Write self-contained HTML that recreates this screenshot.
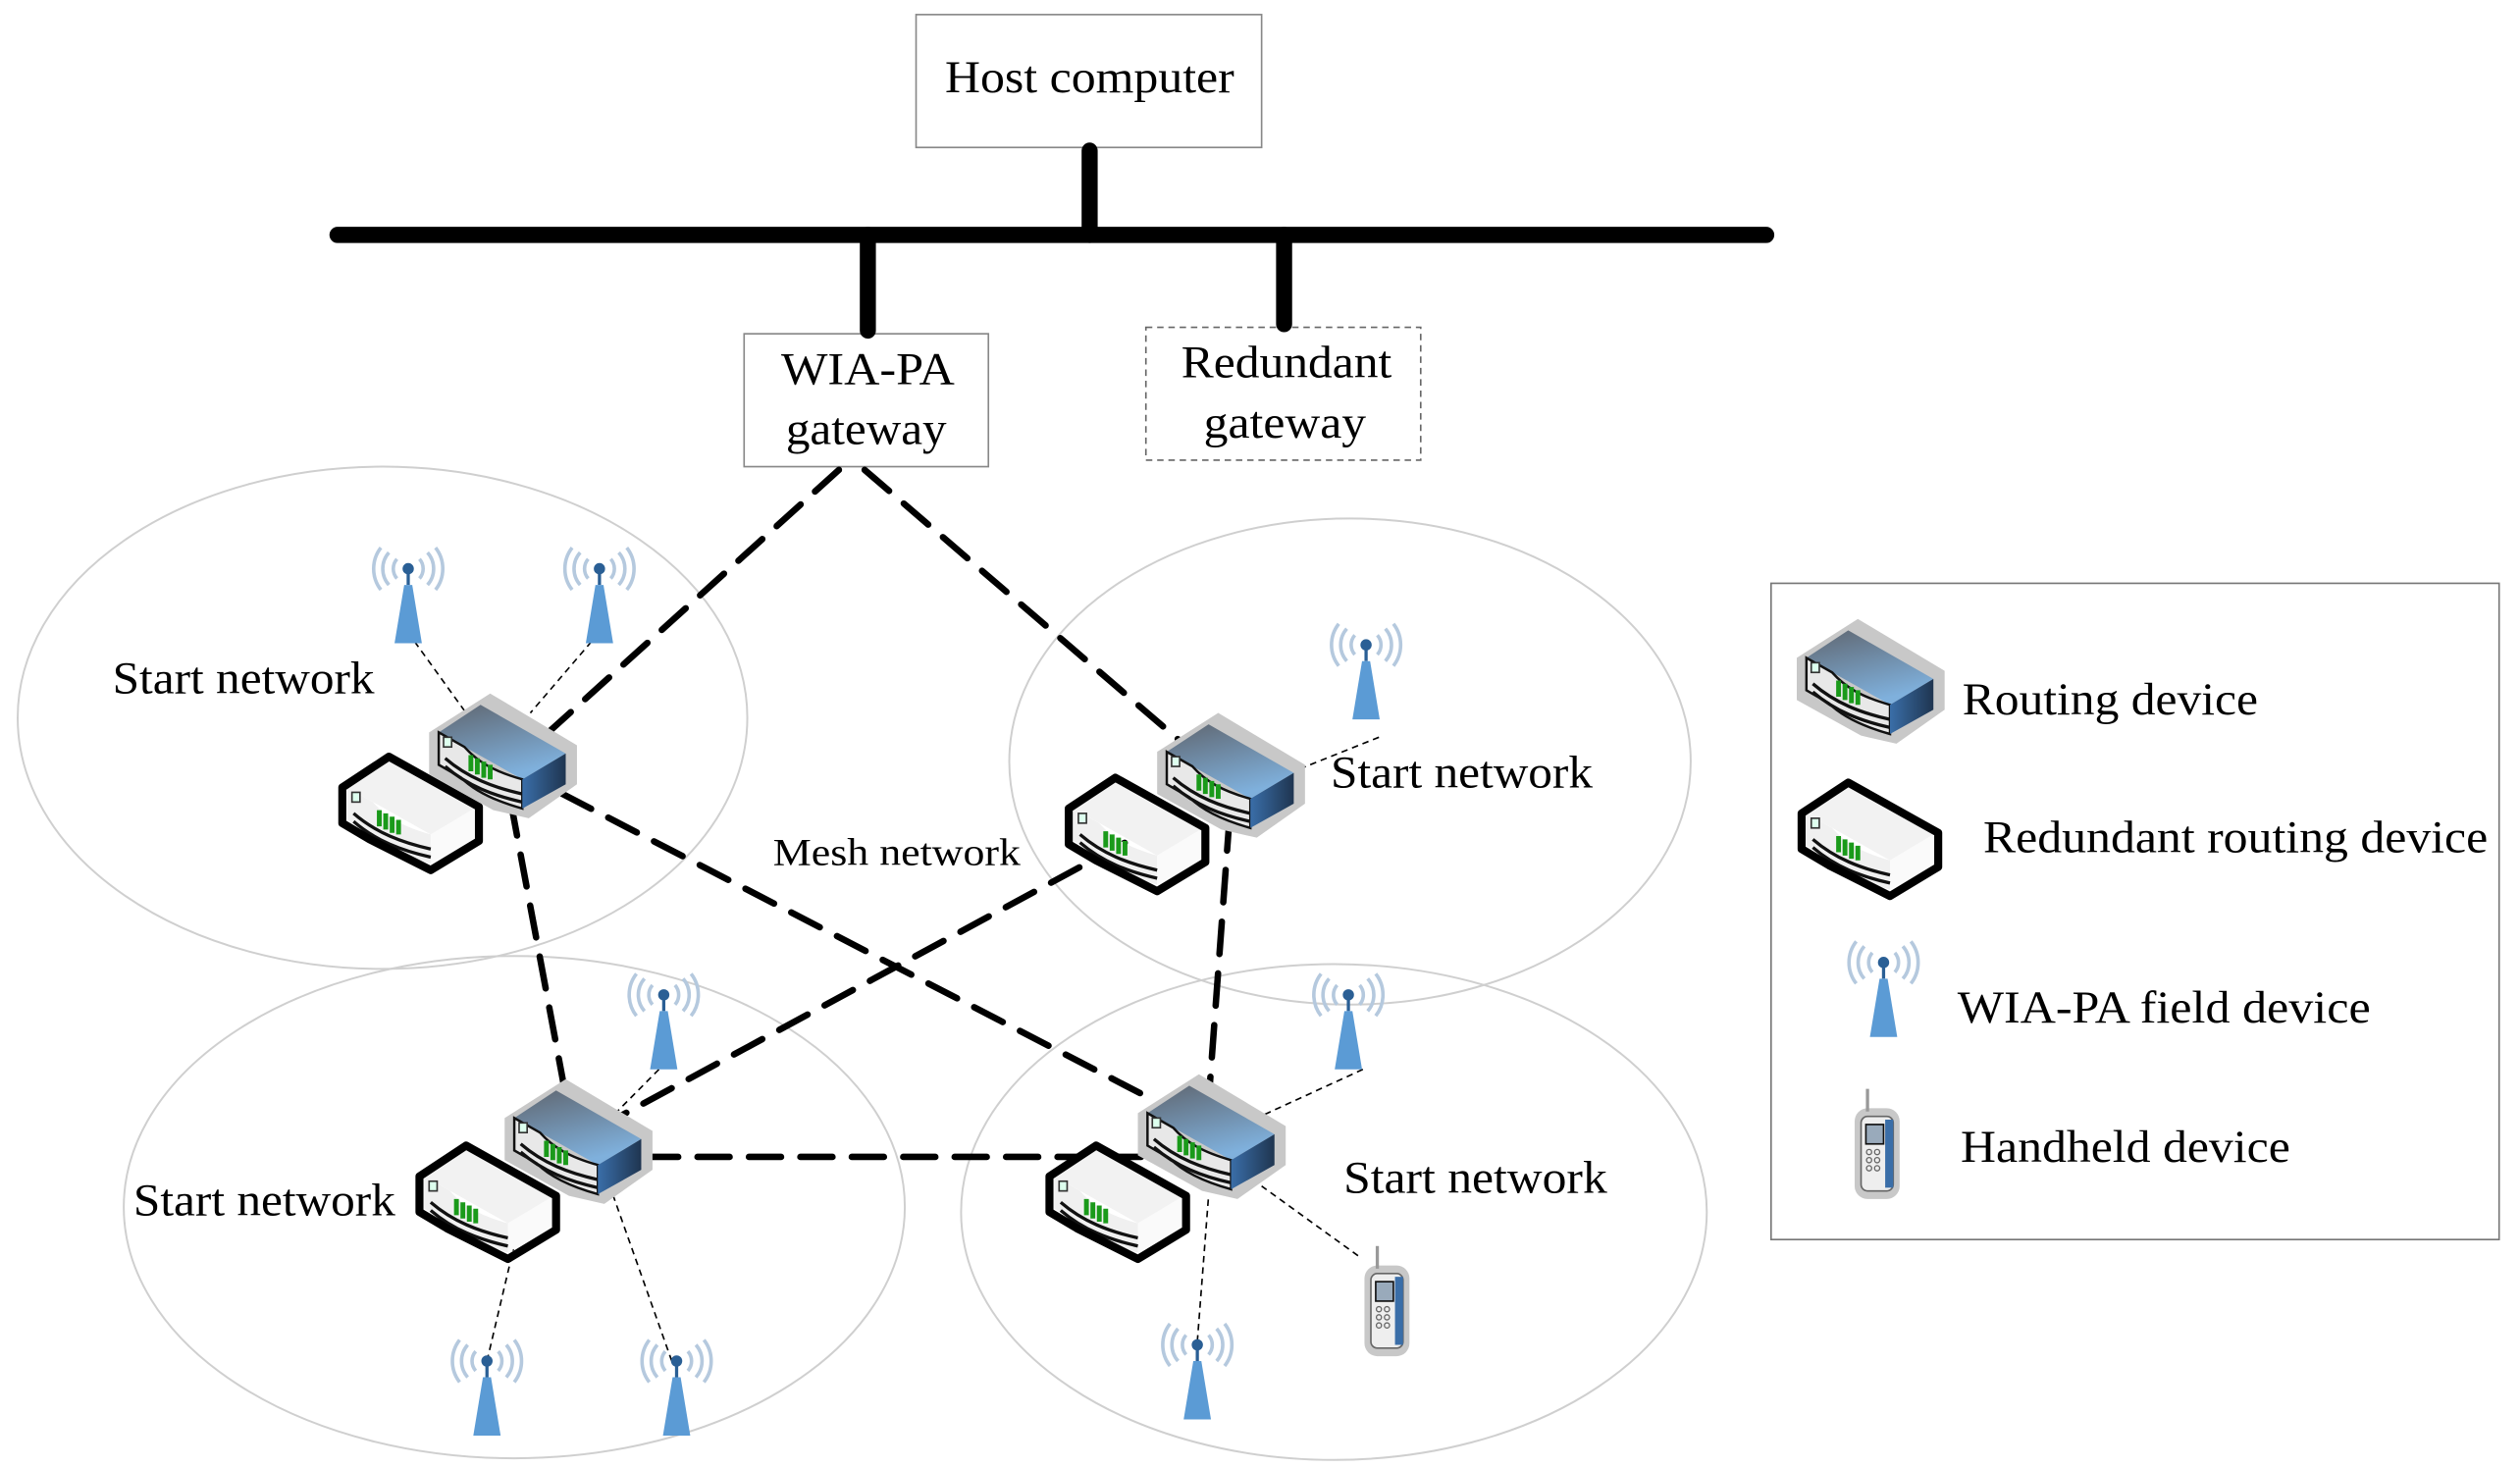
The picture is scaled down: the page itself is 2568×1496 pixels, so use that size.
<!DOCTYPE html>
<html><head><meta charset="utf-8"><style>html,body{margin:0;padding:0;background:#fff}svg{display:block}</style></head>
<body>
<svg width="2568" height="1496" viewBox="0 0 1568 906" preserveAspectRatio="none" xmlns="http://www.w3.org/2000/svg" font-family="Liberation Serif, serif">
<defs>
<linearGradient id="gt" x1="0" y1="0" x2="0.4" y2="1"><stop offset="0" stop-color="#5f6670"/><stop offset="1" stop-color="#7fb0dc"/></linearGradient>
<linearGradient id="gr" x1="0" y1="0" x2="1" y2="0"><stop offset="0" stop-color="#3a6ea8"/><stop offset="1" stop-color="#1f3550"/></linearGradient>
<g id="rt">
<polygon points="0,24 38,0 92,32 92,56 62,77 40,72 0,50" fill="#c8c8c8"/>
<polygon points="6,24 32,7 85,37 58,53" fill="url(#gt)"/>
<path d="M6,24 L22,33 C30,42 40,48 58,53 L58,71 C40,66 28,60 20,52 L6,44 Z" fill="#e8e8e8" stroke="#111" stroke-width="1.5"/>
<path d="M10,40 C24,52 40,58 58,62 M10,45 C24,57 40,63 58,67" stroke="#111" stroke-width="2" fill="none"/>
<rect x="9" y="27" width="5" height="6" fill="#dfe" stroke="#333" stroke-width="1"/>
<path d="M26,38 l0,10 M30,40 l0,10 M34,42 l0,10 M38,44 l0,9" stroke="#1a9a1a" stroke-width="3"/>
<polygon points="58,53 85,37 85,56 58,71" fill="url(#gr)"/>
</g>
<g id="wr">
<polygon points="6,24 32,7 85,37 58,53" fill="#f2f2f2"/>
<path d="M6,24 L22,33 C30,42 40,48 58,53 L58,71 C40,66 28,60 20,52 L6,44 Z" fill="#f0f0f0"/>
<polygon points="58,53 85,37 85,56 58,71" fill="#fafafa"/>
<path d="M10,40 C24,52 40,58 58,62 M10,45 C24,57 40,63 58,67" stroke="#111" stroke-width="2" fill="none"/>
<rect x="9" y="27" width="5" height="6" fill="#dfe" stroke="#333" stroke-width="1"/>
<path d="M26,38 l0,10 M30,40 l0,10 M34,42 l0,10 M38,44 l0,9" stroke="#1a9a1a" stroke-width="3"/>
<polygon points="3,24 32,5 88,36 88,57 58,75 20,56 3,46" fill="none" stroke="#000" stroke-width="5" stroke-linejoin="round"/>
</g>
<g id="an">
<path d="M-7,-6 A9,9 0 0 0 -7,6 M7,-6 A9,9 0 0 1 7,6 M-12,-10 A15,15 0 0 0 -12,10 M12,-10 A15,15 0 0 1 12,10 M-17,-13 A21,21 0 0 0 -17,13 M17,-13 A21,21 0 0 1 17,13" stroke="#b5c9de" stroke-width="2.2" fill="none"/>
<line x1="0" y1="0" x2="0" y2="10" stroke="#2a5f95" stroke-width="2"/>
<circle cx="0" cy="0" r="3.5" fill="#2a5f95"/>
<polygon points="-2.5,10 2.5,10 8.5,46 -8.5,46" fill="#5b9bd5"/>
</g>
<g id="hh">
<rect x="-14" y="-22" width="28" height="56" rx="8" fill="#c8c8c8"/>
<line x1="-6" y1="-34" x2="-6" y2="-20" stroke="#999" stroke-width="2"/>
<rect x="-10" y="-17" width="20" height="46" rx="4" fill="#eee" stroke="#666"/>
<rect x="5" y="-15" width="5" height="42" fill="#3a6ea8"/>
<rect x="-7" y="-12" width="11" height="12" fill="#9ab" stroke="#111"/>
<g fill="none" stroke="#666" stroke-width="0.8"><circle cx="-5" cy="5" r="1.6"/><circle cx="0" cy="5" r="1.6"/><circle cx="-5" cy="10" r="1.6"/><circle cx="0" cy="10" r="1.6"/><circle cx="-5" cy="15" r="1.6"/><circle cx="0" cy="15" r="1.6"/></g>
</g>
</defs>

<g fill="none" stroke="#cfcfcf" stroke-width="1.2">
<ellipse cx="238" cy="443" rx="227" ry="155"/>
<ellipse cx="840" cy="470" rx="212" ry="150"/>
<ellipse cx="320" cy="745" rx="243" ry="155"/>
<ellipse cx="830" cy="748" rx="232" ry="153"/>
</g>

<g lengthAdjust="spacingAndGlyphs" font-size="28">
<rect x="570" y="9" width="215" height="82" fill="#fff" stroke="#888" stroke-width="1"/>
<text x="588" y="57" textLength="180" lengthAdjust="spacingAndGlyphs">Host computer</text>
<rect x="463" y="206" width="152" height="82" fill="#fff" stroke="#888" stroke-width="1"/>
<text x="486" y="237" textLength="108" lengthAdjust="spacingAndGlyphs">WIA-PA</text>
<text x="489" y="274" textLength="100" lengthAdjust="spacingAndGlyphs">gateway</text>
<rect x="713" y="202" width="171" height="82" fill="#fff" stroke="#666" stroke-width="1" stroke-dasharray="4,3"/>
<text x="735" y="233" textLength="131" lengthAdjust="spacingAndGlyphs">Redundant</text>
<text x="749" y="270" textLength="101" lengthAdjust="spacingAndGlyphs">gateway</text>
</g>

<g stroke="#000" stroke-width="10" stroke-linecap="round">
<line x1="210" y1="145" x2="1099" y2="145"/>
<line x1="678" y1="93" x2="678" y2="145"/>
<line x1="540" y1="145" x2="540" y2="204"/>
<line x1="799" y1="145" x2="799" y2="200"/>
</g>

<g stroke="#000" stroke-width="1" stroke-dasharray="4,3" fill="none">
<line x1="258" y1="396" x2="290" y2="440"/>
<line x1="368" y1="396" x2="330" y2="440"/>
<line x1="858" y1="455" x2="800" y2="478"/>
<line x1="410" y1="660" x2="380" y2="690"/>
<line x1="848" y1="660" x2="782" y2="690"/>
<line x1="303" y1="840" x2="322" y2="760"/>
<line x1="418" y1="840" x2="378" y2="728"/>
<line x1="745" y1="828" x2="752" y2="738"/>
<line x1="845" y1="775" x2="785" y2="732"/>
</g>

<g stroke="#000" stroke-width="4" stroke-dasharray="20,12" stroke-linecap="round" fill="none">
<line x1="522" y1="290" x2="330" y2="462"/>
<line x1="538" y1="290" x2="735" y2="458"/>
<line x1="350" y1="490" x2="712" y2="676"/>
<line x1="318" y1="496" x2="352" y2="676"/>
<line x1="765" y1="505" x2="752" y2="680"/>
<line x1="728" y1="505" x2="380" y2="692"/>
<line x1="402" y1="714" x2="712" y2="714"/>
</g>

<use href="#wr" x="210" y="462"/>
<use href="#rt" x="267" y="428"/>
<use href="#wr" x="662" y="475"/>
<use href="#rt" x="720" y="440"/>
<use href="#wr" x="258" y="702"/>
<use href="#rt" x="314" y="666"/>
<use href="#wr" x="650" y="702"/>
<use href="#rt" x="708" y="663"/>

<use href="#an" x="254" y="351"/>
<use href="#an" x="373" y="351"/>
<use href="#an" x="850" y="398"/>
<use href="#an" x="413" y="614"/>
<use href="#an" x="839" y="614"/>
<use href="#an" x="303" y="840"/>
<use href="#an" x="421" y="840"/>
<use href="#an" x="745" y="830"/>
<use href="#hh" x="863" y="803"/>

<g font-size="28">
<text x="70" y="428" textLength="163" lengthAdjust="spacingAndGlyphs">Start network</text>
<text x="828" y="486" textLength="163" lengthAdjust="spacingAndGlyphs">Start network</text>
<text x="83" y="750" textLength="163" lengthAdjust="spacingAndGlyphs">Start network</text>
<text x="836" y="736" textLength="164" lengthAdjust="spacingAndGlyphs">Start network</text>
</g>
<text x="481" y="534" font-size="24" textLength="154" lengthAdjust="spacingAndGlyphs">Mesh network</text>

<rect x="1102" y="360" width="453" height="405" fill="#fff" stroke="#777" stroke-width="1"/>
<use href="#rt" x="1118" y="382"/>
<use href="#wr" x="1118" y="478"/>
<use href="#an" x="1172" y="594"/>
<use href="#hh" x="1168" y="706"/>
<g font-size="28">
<text x="1221" y="441" textLength="184" lengthAdjust="spacingAndGlyphs">Routing device</text>
<text x="1234" y="526" textLength="314" lengthAdjust="spacingAndGlyphs">Redundant routing device</text>
<text x="1218" y="631" textLength="257" lengthAdjust="spacingAndGlyphs">WIA-PA field device</text>
<text x="1220" y="717" textLength="205" lengthAdjust="spacingAndGlyphs">Handheld device</text>
</g>
</svg>
</body></html>
